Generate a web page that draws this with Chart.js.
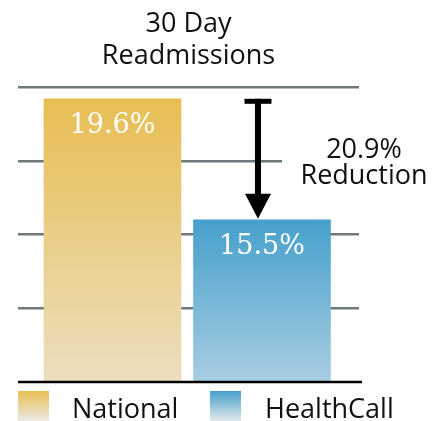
<!DOCTYPE html>
<html>
<head>
<meta charset="utf-8">
<script src="https://cdn.jsdelivr.net/npm/chart.js@4"></script>
<style>
html,body{margin:0;padding:0;background:#fff;}
#wrap{width:443px;height:421px;}
</style>
</head>
<body>
<div id="wrap"><canvas id="c" width="443" height="421"></canvas></div>
<script>
const categories = ['National', 'HealthCall'];
const values = [19.6, 15.5];
const valueLabels = ['19.6%', '15.5%'];
const titleLines = ['30 Day', 'Readmissions'];
const reductionLines = ['20.9%', 'Reduction'];
const yTicks = [10, 12.5, 15, 17.5, 20];

const topColors = ['#e8be52', '#46a0cc'];
const bottomColors = ['#ecdfc0', '#a8cde1'];
const legendBottom = ['#ebe9e5', '#e2e8ec'];

function barGradient(ctx) {
  const chart = ctx.chart;
  const area = chart.chartArea;
  const i = ctx.dataIndex;
  if (!area) return topColors[i];
  const yTop = chart.scales.y.getPixelForValue(values[i]);
  const g = chart.ctx.createLinearGradient(0, yTop, 0, area.bottom);
  g.addColorStop(0, topColors[i]);
  g.addColorStop(1, bottomColors[i]);
  return g;
}

const overlay = {
  id: 'overlay',
  afterDatasetsDraw(chart) {
    const c = chart.ctx;
    const xs = chart.scales.x, ys = chart.scales.y;
    const area = chart.chartArea;
    c.save();
    // baseline axis
    c.strokeStyle = '#000';
    c.lineWidth = 2.5;
    c.beginPath();
    c.moveTo(area.left, ys.getPixelForValue(10));
    c.lineTo(area.right + 3, ys.getPixelForValue(10));
    c.stroke();
    // value labels
    c.fillStyle = '#fff';
    c.font = '27px "DejaVu Serif"';
    c.textAlign = 'center';
    c.textBaseline = 'alphabetic';
    values.forEach((v, i) => {
      const x = xs.getPixelForValue(i + 1);
      const y = ys.getPixelForValue(v);
      c.fillText(valueLabels[i], x, y + 34);
    });
    // arrow
    const ax = xs.getPixelForValue(2) - 4;
    const y1 = ys.getPixelForValue(values[0]);
    const y2 = ys.getPixelForValue(values[1]);
    c.fillStyle = '#000';
    c.fillRect(ax - 13.5, y1, 27, 5);
    c.fillRect(ax - 3, y1, 6, y2 - y1 - 20);
    c.beginPath();
    c.moveTo(ax - 13, y2 - 26);
    c.lineTo(ax + 13, y2 - 26);
    c.lineTo(ax, y2 - 1);
    c.closePath();
    c.fill();
    // reduction text
    c.fillStyle = '#fff';
    c.fillRect(282, 150, 82, 22);
    c.fillStyle = '#111';
    c.font = '27px "Open Sans"';
    c.textAlign = 'center';
    c.fillText(reductionLines[0], 364, 158);
    c.fillText(reductionLines[1], 364, 184);
    // legend
    const lx = [18, 210];
    const tx = [72, 265];
    categories.forEach((name, i) => {
      const g = c.createLinearGradient(0, 391, 0, 421);
      g.addColorStop(0, topColors[i]);
      g.addColorStop(1, legendBottom[i]);
      c.fillStyle = g;
      c.fillRect(lx[i], 391, 31, 30);
      c.fillStyle = '#111';
      c.textAlign = 'left';
      c.font = '27px "Open Sans"';
      c.fillText(name, tx[i], 418);
    });
    c.restore();
  }
};

new Chart(document.getElementById('c'), {
  type: 'bar',
  data: {
    datasets: [{
      data: values.map((v, i) => ({ x: i + 1, y: v })),
      backgroundColor: barGradient,
      borderWidth: 0,
      barThickness: 137
    }]
  },
  options: {
    responsive: false,
    animation: false,
    layout: { padding: { left: 18, right: 84, top: 0, bottom: 39 } },
    plugins: {
      legend: { display: false },
      tooltip: { enabled: false },
      title: {
        display: true,
        text: titleLines,
        color: '#111',
        font: { family: '"Open Sans"', size: 27, lineHeight: 32 / 27, weight: 'normal' },
        padding: { top: 8, bottom: 15 }
      }
    },
    scales: {
      x: {
        type: 'linear',
        display: false,
        offset: false,
        bounds: 'ticks',
        min: 0.368,
        max: 2.649
      },
      y: {
        min: 10,
        max: 20,
        afterBuildTicks: s => { s.ticks = yTicks.map(v => ({ value: v })); },
        border: { display: false },
        ticks: { display: false },
        grid: {
          drawTicks: false,
          lineWidth: 2.5,
          color: ctx => (ctx.tick && ctx.tick.value === 10) ? 'rgba(0,0,0,0)' : '#6e7a7a'
        }
      }
    }
  },
  plugins: [overlay]
});
</script>
</body>
</html>
